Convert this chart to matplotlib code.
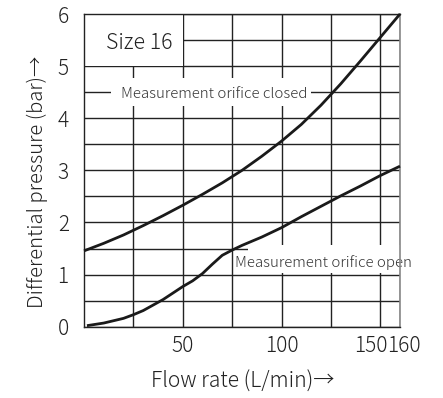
import matplotlib
matplotlib.use("Agg")
import matplotlib.pyplot as plt
import matplotlib.transforms as mtransforms
from matplotlib.patches import Rectangle

plt.rcParams['font.family'] = ['Noto Sans CJK JP', 'DejaVu Sans']

# Differential pressure curves, size 16 valve
flow_closed = [0, 10, 20, 30, 40, 50, 60, 70, 80, 90, 100, 110, 120, 130, 140, 150, 160]
dp_closed = [1.455, 1.6, 1.76, 1.94, 2.13, 2.33, 2.54, 2.76, 3.0, 3.27, 3.56, 3.88,
             4.25, 4.66, 5.1, 5.55, 6.0]

flow_open = [1.5, 10, 20, 25, 30, 40, 50, 55, 60, 65, 70, 75, 80, 90, 100, 110, 120,
             130, 140, 150, 160]
dp_open = [0.02, 0.07, 0.16, 0.23, 0.31, 0.52, 0.77, 0.88, 1.02, 1.2, 1.37, 1.47, 1.56,
           1.72, 1.9, 2.11, 2.31, 2.51, 2.7, 2.9, 3.08]

x_ticks = [50, 100, 150, 160]
x_grid = [25, 75, 125]
y_ticks = [0, 1, 2, 3, 4, 5, 6]
y_grid = [0.5, 1.5, 2.5, 3.5, 4.5, 5.5]

fig = plt.figure(figsize=(4.43, 3.98), dpi=100)
ax = fig.add_axes([84 / 443, 1 - 326.7 / 398, 316 / 443, 312.7 / 398])
ax.set_xlim(0, 160)
ax.set_ylim(0, 6)

ax.set_xticks(x_ticks)
ax.set_xticks(x_grid, minor=True)
ax.set_yticks(y_ticks)
ax.set_yticks(y_grid, minor=True)
ax.tick_params(which='both', length=0)
ax.tick_params(axis='x', pad=6, labelsize=15)
ax.tick_params(axis='y', pad=11, labelsize=15)
for lab in ax.get_xticklabels() + ax.get_yticklabels():
    lab.set_fontweight('light')
    lab.set_color('#222222')
ax.grid(True, which='both', color='#222222', linewidth=1.0, zorder=1)
ax.set_axisbelow(True)

# spread the crowded "150" / "160" labels apart
xlabels = ax.get_xticklabels()
for lab, dx in ((xlabels[2], -9), (xlabels[3], 4)):
    lab.set_transform(lab.get_transform() +
                      mtransforms.ScaledTranslation(dx / 100, 0, fig.dpi_scale_trans))

for side in ['left', 'bottom', 'top']:
    ax.spines[side].set_color('#222222')
    ax.spines[side].set_linewidth(1.0)
ax.spines['right'].set_color('#888888')
ax.spines['right'].set_linewidth(1.2)
for sp in ax.spines.values():
    sp.set_zorder(4)

# white label backgrounds interrupting the grid
masks = [(0, 5.0, 50, 1.0), (13.5, 4.23, 101.5, 0.55), (83, 1.03, 77, 0.54)]
for x0, y0, w, h in masks:
    ax.add_patch(Rectangle((x0, y0), w, h, facecolor='white', edgecolor='none', zorder=2))

ax.plot(flow_closed, dp_closed, color='#1a1a1a', linewidth=2.0, zorder=5, clip_on=False,
        solid_capstyle='butt', solid_joinstyle='round')
ax.plot(flow_open, dp_open, color='#1a1a1a', linewidth=2.0, zorder=5, clip_on=False,
        solid_capstyle='butt', solid_joinstyle='round')

ax.text(28, 5.45, 'Size 16', ha='center', va='center', fontsize=15.3,
        fontweight='light', color='#222222', zorder=3)
ax.text(66, 4.47, 'Measurement orifice closed', ha='center', va='center', fontsize=10.8,
        fontweight='light', color='#333333', zorder=3)
ax.text(76.5, 1.23, 'Measurement orifice open', ha='left', va='center', fontsize=10.8,
        fontweight='light', color='#333333', zorder=3, clip_on=False)

fig.text(243 / 443, 1 - 381.7 / 398, 'Flow rate (L/min)→', ha='center', va='center',
         fontsize=15.2, fontweight='light', color='#222222',
         family=['Noto Sans CJK JP', 'DejaVu Sans'])
fig.text(37.5 / 443, 1 - 181.5 / 398, 'Differential pressure (bar)→', ha='center',
         va='center', rotation=90, fontsize=14.6, fontweight='light', color='#222222',
         family=['Noto Sans CJK JP', 'DejaVu Sans'])

fig.savefig('out.png', dpi=100, facecolor='white')
